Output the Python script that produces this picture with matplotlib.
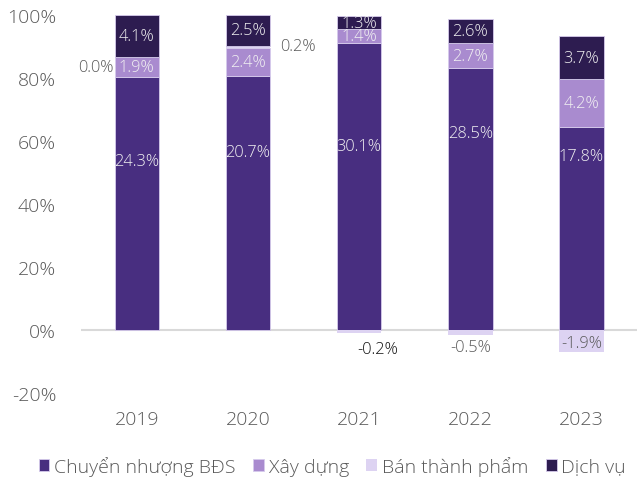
import matplotlib
matplotlib.use("Agg")
import matplotlib.pyplot as plt
import numpy as np

years = ["2019", "2020", "2021", "2022", "2023"]
series_names = ["Chuyển nhượng BĐS", "Xây dựng", "Bán thành phẩm", "Dịch vụ"]
# share of gross profit (%)
chuyen_nhuong = [80.2, 80.6, 91.2, 83.0, 64.3]
xay_dung = [6.4, 9.0, 4.3, 8.0, 15.3]
ban_thanh_pham = [0.0, 0.5, -0.9, -1.6, -7.0]
dich_vu = [13.4, 9.9, 4.0, 7.7, 13.6]
# gross margin labels (%)
lbl_cn = ["24.3%", "20.7%", "30.1%", "28.5%", "17.8%"]
lbl_xd = ["1.9%", "2.4%", "1.4%", "2.7%", "4.2%"]
lbl_btp = ["0.0%", "0.2%", "-0.2%", "-0.5%", "-1.9%"]
lbl_dv = ["4.1%", "2.5%", "1.3%", "2.6%", "3.7%"]
cn_label_y = [53.6, 56.5, 58.4, 62.5, 55.2]

colors = ["#482e80", "#a98bcf", "#ddd3f2", "#2d1c50"]
plt.rcParams['font.family'] = ['Open Sans', 'DejaVu Sans']
plt.rcParams['font.weight'] = 'light'

fig = plt.figure(figsize=(6.39, 4.81), dpi=100)
ax = fig.add_axes([0.127, 0.181, 0.870, 0.786])
x = np.arange(len(years))
w = 0.4
edge = "#d6cbec"

cn = np.array(chuyen_nhuong)
xd = np.array(xay_dung)
btp = np.array(ban_thanh_pham)
dv = np.array(dich_vu)
btp_pos = np.where(btp > 0, btp, 0)
btp_neg = np.where(btp < 0, btp, 0)

ax.bar(x, cn, w, color=colors[0], edgecolor=edge, linewidth=0.6, label=series_names[0])
ax.bar(x, xd, w, bottom=cn, color=colors[1], edgecolor=edge, linewidth=0.6, label=series_names[1])
ax.bar(x, btp_pos, w, bottom=cn + xd, color=colors[2], linewidth=0, label=series_names[2])
ax.bar(x, btp_neg, w, color=colors[2], linewidth=0)
ax.bar(x, dv, w, bottom=cn + xd + btp_pos, color=colors[3], edgecolor=edge, linewidth=0.6, label=series_names[3])

white = "#f2f2f2"
gray = "#595959"
fs = 11.8
for i in range(len(years)):
    ax.text(x[i], cn_label_y[i], lbl_cn[i], ha="center", va="center", color=white, fontsize=fs)
    ax.text(x[i], cn[i] + xd[i] / 2, lbl_xd[i], ha="center", va="center", color=white, fontsize=fs)
    ax.text(x[i], cn[i] + xd[i] + btp_pos[i] + dv[i] / 2, lbl_dv[i], ha="center", va="center", color=white, fontsize=fs)

# Bán thành phẩm labels
ax.text(x[0] - w / 2 - 0.01, cn[0] + xd[0] / 2, lbl_btp[0], ha="right", va="center", color=gray, fontsize=fs)
ax.text(x[1] + w / 2 + 0.09, cn[1] + xd[1] + 0.5, lbl_btp[1], ha="left", va="center", color=gray, fontsize=fs)
ax.text(x[2] + 0.17, -6.0, lbl_btp[2], ha="center", va="center", color="#111111", fontsize=fs)
ax.text(x[3], -5.3, lbl_btp[3], ha="center", va="center", color=gray, fontsize=fs)
ax.text(x[4], -4.0, lbl_btp[4], ha="center", va="center", color=gray, fontsize=fs)

ax.set_xlim(-0.5, 4.5)
ax.set_ylim(-20, 100)
ax.set_yticks(np.arange(-20, 101, 20))
ax.set_yticklabels([f"{v}%" for v in range(-20, 101, 20)])
ax.set_xticks(x)
ax.set_xticklabels(years)
ax.tick_params(axis="both", length=0, labelsize=14, labelcolor=gray)
ax.tick_params(axis="y", pad=18)
ax.tick_params(axis="x", pad=12)
for s in ["top", "right", "left", "bottom"]:
    ax.spines[s].set_visible(False)
ax.axhline(0, color="#d9d9d9", linewidth=1.5, zorder=0.5)

handles, labels = ax.get_legend_handles_labels()
fig.legend(handles, labels, loc="center", bbox_to_anchor=(0.52, 0.03), ncol=4, frameon=False,
           fontsize=14, handlelength=0.55, handleheight=0.55, handletextpad=0.25, columnspacing=0.9,
           labelcolor=gray)

fig.savefig("out.png", dpi=100)
